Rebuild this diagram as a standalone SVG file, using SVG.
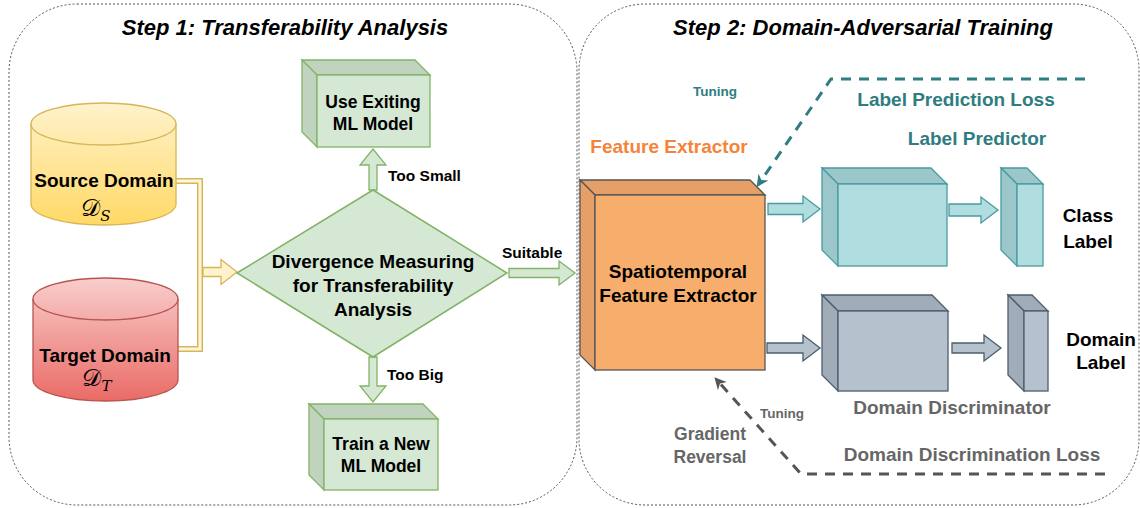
<svg xmlns="http://www.w3.org/2000/svg" width="1140" height="508" viewBox="0 0 1140 508">
  <defs>
    <linearGradient id="gradSource" x1="0" y1="0" x2="0" y2="1">
      <stop offset="0" stop-color="#fff2cc"/>
      <stop offset="1" stop-color="#ffd966"/>
    </linearGradient>
    <linearGradient id="gradTarget" x1="0" y1="0" x2="0" y2="1">
      <stop offset="0" stop-color="#f8cecc"/>
      <stop offset="1" stop-color="#ea6b66"/>
    </linearGradient>
    <marker id="headTeal" viewBox="0 0 10 10" refX="8" refY="5" markerWidth="4" markerHeight="4" orient="auto" markerUnits="strokeWidth">
      <path d="M0,0 L10,5 L0,10 L3,5 Z" fill="#2e7d80"/>
    </marker>
    <marker id="headGray" viewBox="0 0 10 10" refX="8" refY="5" markerWidth="4" markerHeight="4" orient="auto" markerUnits="strokeWidth">
      <path d="M0,0 L10,5 L0,10 L3,5 Z" fill="#555555"/>
    </marker>
  </defs>
  <style>
    text { font-family: "Liberation Sans", Arial, sans-serif; font-weight: bold; }
    .panel { fill: none; stroke: #555; stroke-width: 1; stroke-dasharray: 2 2; }
    .title { font-size: 22px; font-style: italic; fill: #000; text-anchor: middle; }
    .lbl { font-size: 19px; fill: #000; text-anchor: middle; }
    .lbl17 { font-size: 17.5px; fill: #000; text-anchor: middle; }
    .small { font-size: 15.5px; fill: #000; }
    .math { font-family: "DejaVu Serif", "Liberation Serif", serif; font-weight: normal; fill: #000; }
    .green-front { fill: #d5e8d4; stroke: #82b366; stroke-width: 1.3; }
    .green-side { fill: #c0d3bf; stroke: #82b366; stroke-width: 1.3; }
    .teal-front { fill: #b0dde0; stroke: #4a9a9f; stroke-width: 1.3; }
    .teal-side { fill: #9cc7ca; stroke: #4a9a9f; stroke-width: 1.3; }
    .gray-front { fill: #b5c1cc; stroke: #4d5d6d; stroke-width: 1.3; }
    .gray-side { fill: #a0acb8; stroke: #4d5d6d; stroke-width: 1.3; }
    .orange-front { fill: #f7ae6c; stroke: #555; stroke-width: 1.3; }
    .orange-side { fill: #e6a067; stroke: #555; stroke-width: 1.3; }
    .teal-text { fill: #2e7d80; }
    .gray-text { fill: #666666; }
  </style>

  <!-- panels -->
  <g id="panel-step1">
    <rect class="panel" x="9" y="4" width="568" height="501" rx="68" ry="68"/>
    <text class="title" x="285" y="35">Step 1: Transferability Analysis</text>
  </g>
  <g id="panel-step2">
    <rect class="panel" x="579" y="4" width="560" height="501" rx="66" ry="66"/>
    <text class="title" x="863" y="35">Step 2: Domain-Adversarial Training</text>
  </g>

  <!-- connectors -->
  <g id="connectors">
    <!-- double link from the two domains -->
    <path d="M176,181 H200 V349 H178" fill="none" stroke="#d6b656" stroke-width="6"/>
    <path d="M176,181 H200 V349 H178" fill="none" stroke="#fff6dc" stroke-width="3"/>
    <polygon points="203,267.5 221,267.5 221,259.5 237,272 221,284.5 221,276.5 203,276.5" fill="#fff2cc" stroke="#d6b656" stroke-width="1.3"/>
    <!-- Too Small -->
    <polygon points="369,190 369,165 360,165 373,149 386,165 377,165 377,190" fill="#d5e8d4" stroke="#82b366" stroke-width="1.3"/>
    <text class="small" x="388" y="181">Too Small</text>
    <!-- Too Big -->
    <polygon points="369,357 369,386 360,386 373,402 386,386 377,386 377,357" fill="#d5e8d4" stroke="#82b366" stroke-width="1.3"/>
    <text class="small" x="387" y="380">Too Big</text>
    <!-- Suitable -->
    <polygon points="509,268.5 559,268.5 559,261 575,273 559,285 559,277.5 509,277.5" fill="#d5e8d4" stroke="#82b366" stroke-width="1.3"/>
    <text class="small" x="502" y="258">Suitable</text>
    <!-- feature extractor to label predictor -->
    <polygon points="768,203.5 803,203.5 803,196 820,209 803,222 803,214.5 768,214.5" class="teal-front"/>
    <polygon points="949,204 981,204 981,197 998,210 981,223 981,216 949,216" class="teal-front"/>
    <!-- feature extractor to domain discriminator -->
    <polygon points="767,343 803,343 803,335 820,348 803,361 803,353 767,353" class="gray-front"/>
    <polygon points="952,343 984,343 984,335 1001,348 984,361 984,353 952,353" class="gray-front"/>
    <!-- label prediction loss feedback -->
    <path d="M1085,79 H831 L758,185" fill="none" stroke="#2e7d80" stroke-width="3" stroke-dasharray="10 8" marker-end="url(#headTeal)"/>
    <text class="teal-text" x="693" y="96" font-size="13.5">Tuning</text>
    <!-- domain discrimination loss feedback (gradient reversal) -->
    <path d="M1105,474 H801 L716,379" fill="none" stroke="#555555" stroke-width="3" stroke-dasharray="10 8" marker-end="url(#headGray)"/>
    <text class="gray-text" x="760" y="418" font-size="13.5">Tuning</text>
  </g>

  <!-- Step 1 nodes -->
  <g id="source-domain">
    <path d="M31,124 V204 A72.5,21 0 0 0 176,204 V124 A72.5,21 0 0 0 31,124 Z" fill="url(#gradSource)" stroke="#d6b656" stroke-width="1.3"/>
    <path d="M31,124 A72.5,21 0 0 0 176,124" fill="none" stroke="#d6b656" stroke-width="1.3"/>
    <text class="lbl" x="104" y="187">Source Domain</text>
    <text class="math" x="96" y="216" font-size="24" text-anchor="middle">𝒟<tspan font-size="15" font-style="italic" dy="5">S</tspan></text>
  </g>
  <g id="target-domain">
    <path d="M33,299 V380 A72.5,21 0 0 0 178,380 V299 A72.5,21 0 0 0 33,299 Z" fill="url(#gradTarget)" stroke="#b85450" stroke-width="1.3"/>
    <path d="M33,299 A72.5,21 0 0 0 178,299" fill="none" stroke="#b85450" stroke-width="1.3"/>
    <text class="lbl" x="105" y="362">Target Domain</text>
    <text class="math" x="97" y="386" font-size="24" text-anchor="middle">𝒟<tspan font-size="15" font-style="italic" dy="5">T</tspan></text>
  </g>
  <g id="divergence">
    <polygon points="237,273 373,190 507,273 373,357" fill="#d5e8d4" stroke="#82b366" stroke-width="1.5"/>
    <text class="lbl" x="373" y="268">Divergence Measuring</text>
    <text class="lbl" x="373" y="292">for Transferability</text>
    <text class="lbl" x="373" y="316">Analysis</text>
  </g>
  <g id="use-existing">
    <polygon class="green-side" points="302,60 415,60 430,75 317,75"/>
    <polygon class="green-side" points="302,60 317,75 317,147 302,132"/>
    <rect class="green-front" x="317" y="75" width="113" height="72"/>
    <text class="lbl17" x="373" y="108">Use Exiting</text>
    <text class="lbl17" x="373" y="130">ML Model</text>
  </g>
  <g id="train-new">
    <polygon class="green-side" points="309,404 423,404 438,419 324,419"/>
    <polygon class="green-side" points="309,404 324,419 324,490 309,475"/>
    <rect class="green-front" x="324" y="419" width="114" height="71"/>
    <text class="lbl17" x="381" y="450">Train a New</text>
    <text class="lbl17" x="381" y="472">ML Model</text>
  </g>

  <!-- Step 2 nodes -->
  <g id="feature-extractor">
    <text x="669" y="153" font-size="19" fill="#f5843a" text-anchor="middle">Feature Extractor</text>
    <polygon class="orange-side" points="580,180 750,180 765,195 595,195"/>
    <polygon class="orange-side" points="580,180 595,195 595,370 580,355"/>
    <rect class="orange-front" x="595" y="195" width="170" height="175"/>
    <text class="lbl" x="678" y="278">Spatiotemporal</text>
    <text class="lbl" x="678" y="302">Feature Extractor</text>
  </g>
  <g id="label-predictor">
    <text class="teal-text" x="956" y="106" font-size="19" text-anchor="middle">Label Prediction Loss</text>
    <text class="teal-text" x="977" y="145" font-size="19" text-anchor="middle">Label Predictor</text>
    <polygon class="teal-side" points="822,168 931,168 947,184 838,184"/>
    <polygon class="teal-side" points="822,168 838,184 838,266 822,250"/>
    <rect class="teal-front" x="838" y="184" width="109" height="82"/>
  </g>
  <g id="class-output">
    <polygon class="teal-side" points="1001,168 1027,168 1043,184 1017,184"/>
    <polygon class="teal-side" points="1001,168 1017,184 1017,266 1001,250"/>
    <rect class="teal-front" x="1017" y="184" width="26" height="82"/>
    <text class="lbl" x="1088" y="222">Class</text>
    <text class="lbl" x="1088" y="248">Label</text>
  </g>
  <g id="domain-discriminator">
    <polygon class="gray-side" points="822,295 932,295 948,311 838,311"/>
    <polygon class="gray-side" points="822,295 838,311 838,391 822,375"/>
    <rect class="gray-front" x="838" y="311" width="110" height="80"/>
    <text class="gray-text" x="952" y="414" font-size="19" text-anchor="middle">Domain Discriminator</text>
    <text class="gray-text" x="972" y="461" font-size="19" text-anchor="middle">Domain Discrimination Loss</text>
  </g>
  <g id="domain-output">
    <polygon class="gray-side" points="1008,295 1032,295 1048,311 1024,311"/>
    <polygon class="gray-side" points="1008,295 1024,311 1024,391 1008,375"/>
    <rect class="gray-front" x="1024" y="311" width="24" height="80"/>
    <text class="lbl" x="1101" y="346">Domain</text>
    <text class="lbl" x="1101" y="369">Label</text>
  </g>
  <g id="gradient-reversal">
    <text class="gray-text" x="710" y="440" font-size="17.5" text-anchor="middle">Gradient</text>
    <text class="gray-text" x="710" y="463" font-size="17.5" text-anchor="middle">Reversal</text>
  </g>
</svg>
